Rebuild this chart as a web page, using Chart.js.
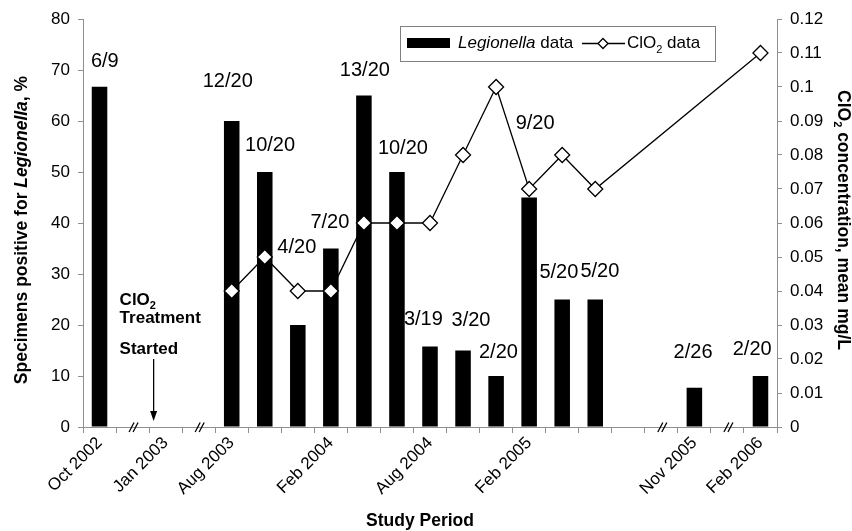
<!DOCTYPE html>
<html><head><meta charset="utf-8">
<script src="https://cdn.jsdelivr.net/npm/chart.js@4.4.1/dist/chart.umd.min.js"></script>
<style>html,body{margin:0;padding:0;background:#fff;}canvas{display:block;}</style>
</head><body>
<canvas id="c" width="852" height="531"></canvas>
<script>
// ---- data ----
const categories = ['Oct 2002','','Jan 2003','','Aug 2003','','','Feb 2004','','','Aug 2004','','','Feb 2005','','','','','Nov 2005','','Feb 2006'];
const legionellaPct = [66.7,null,null,null,60,50,20,35,65,50,15.8,15,10,45,25,25,null,null,7.7,null,10];
const clo2Conc = [null,null,null,null,0.04,0.05,0.04,0.04,0.06,0.06,0.06,0.08,0.10,0.07,0.08,0.07,null,null,null,null,0.11];
const fractionLabels = ['6/9','','','','12/20','10/20','4/20','7/20','13/20','10/20','3/19','3/20','2/20','9/20','5/20','5/20','','','2/26','','2/20'];
const breakCategories = [1,3,17,19];
const leftTicksMax = 80, leftStep = 10;
const rightTicksMax = 0.12, rightStep = 0.01;
// label anchors: [category offset, value on left axis]
const labelAnchors = [[0.16,71.7],null,null,null,[-0.12,67.7],[0.16,55.2],[-0.03,35.2],[-0.03,40.1],[0.03,70.0],[0.18,54.7],[-0.2,21.1],[0.24,20.9],[0.07,14.6],[0.18,59.6],[-0.1,30.2],[0.14,30.5],null,null,[-0.04,14.6],null,[-0.25,15.2]];

const FONT = '"Liberation Sans", Arial, Helvetica, sans-serif';
Chart.defaults.font.family = FONT;
Chart.defaults.color = '#000';
const AXIS = '#8f8f8f';

function richWidth(ctx, parts){let w=0;for(const p of parts){ctx.font=p.font;w+=ctx.measureText(p.t).width;}return w;}
function drawRich(ctx, parts, x, y){let cx=x;for(const p of parts){ctx.font=p.font;ctx.fillText(p.t,cx,y+(p.dy||0));cx+=ctx.measureText(p.t).width;}return cx;}

const decor = {
  id:'decor',
  afterDatasetsDraw(chart){
    const ctx = chart.ctx, xs = chart.scales.x, ys = chart.scales.y;
    const area = chart.chartArea;
    const cw = xs.getPixelForValue(1) - xs.getPixelForValue(0);
    ctx.save();
    ctx.fillStyle = '#000';
    ctx.textBaseline = 'middle';
    // data labels
    ctx.textAlign = 'center';
    ctx.font = '20px ' + FONT;
    fractionLabels.forEach((t,i)=>{
      const a = labelAnchors[i]; if(!t||!a) return;
      ctx.fillText(t, xs.getPixelForValue(i) + a[0]*cw, ys.getPixelForValue(a[1]));
    });
    // axis breaks
    ctx.strokeStyle = '#000'; ctx.lineWidth = 1.3;
    const by = area.bottom;
    breakCategories.forEach(i=>{
      const cx = xs.getPixelForValue(i) + 1;
      [-2,2].forEach(d=>{
        ctx.beginPath();
        ctx.moveTo(cx + d - 2.5, by + 5);
        ctx.lineTo(cx + d + 2.5, by - 4.5);
        ctx.stroke();
      });
    });
    // treatment annotation
    ctx.textAlign = 'left';
    const ref = xs.getPixelForValue(2);
    const tx = ref - 46;
    const bold17 = 'bold 17px ' + FONT;
    drawRich(ctx, [{t:'ClO',font:bold17},{t:'2',font:'bold 11px '+FONT,dy:6}], tx, 300);
    ctx.font = bold17;
    ctx.fillText('Treatment', tx, 318.5);
    ctx.fillText('Started', tx, 349);
    const axp = ref - 12;
    ctx.lineWidth = 1.3;
    ctx.beginPath(); ctx.moveTo(axp, 359); ctx.lineTo(axp, 413); ctx.stroke();
    ctx.beginPath(); ctx.moveTo(axp-3.5, 411); ctx.lineTo(axp+3.5, 411); ctx.lineTo(axp, 421); ctx.closePath(); ctx.fill();
    // legend
    ctx.fillStyle = '#fff';
    ctx.fillRect(400, 26, 315, 35);
    ctx.strokeStyle = '#808080'; ctx.lineWidth = 1;
    ctx.strokeRect(400.5, 26.5, 315, 35);
    ctx.fillStyle = '#000';
    ctx.fillRect(407, 38, 43, 10);
    const f17 = '17px ' + FONT;
    drawRich(ctx, [{t:'Legionella',font:'italic 17px '+FONT},{t:' data',font:f17}], 458, 43.5);
    ctx.strokeStyle = '#000'; ctx.lineWidth = 1.3;
    ctx.beginPath(); ctx.moveTo(582, 43.5); ctx.lineTo(625, 43.5); ctx.stroke();
    ctx.beginPath(); ctx.moveTo(603, 38.5); ctx.lineTo(608, 43.5); ctx.lineTo(603, 48.5); ctx.lineTo(598, 43.5); ctx.closePath();
    ctx.fillStyle = '#fff'; ctx.fill(); ctx.stroke();
    ctx.fillStyle = '#000';
    drawRich(ctx, [{t:'ClO',font:f17},{t:'2',font:'11px '+FONT,dy:6},{t:' data',font:f17}], 627, 43.5);
    // axis titles
    const b18 = 'bold 17.5px ' + FONT;
    const leftParts = [{t:'Specimens positive for ',font:b18},{t:'Legionella',font:'italic bold 17.5px '+FONT},{t:', %',font:b18}];
    ctx.save();
    ctx.translate(22, 230); ctx.rotate(-Math.PI/2);
    drawRich(ctx, leftParts, -richWidth(ctx,leftParts)/2, 0);
    ctx.restore();
    const rightParts = [{t:'ClO',font:b18},{t:'2',font:'bold 11px '+FONT,dy:6},{t:' concentration, mean mg/L',font:b18}];
    ctx.save();
    ctx.translate(843, 220); ctx.rotate(Math.PI/2);
    drawRich(ctx, rightParts, -richWidth(ctx,rightParts)/2, 0);
    ctx.restore();
    ctx.font = b18; ctx.textAlign = 'center';
    ctx.fillText('Study Period', (area.left+area.right)/2 - 10, 521);
    ctx.restore();
  }
};

new Chart(document.getElementById('c'), {
  type:'bar',
  data:{
    labels: categories,
    datasets:[
      {type:'line', label:'ClO2 data', data:clo2Conc, yAxisID:'y1', order:0,
       borderColor:'#000', borderWidth:1.3, spanGaps:true, tension:0,
       pointStyle:'rectRot', pointRadius:7.5, pointBackgroundColor:'#fff', pointBorderColor:'#000', pointBorderWidth:1.3},
      {type:'bar', label:'Legionella data', data:legionellaPct, yAxisID:'y', order:1,
       backgroundColor:'#000', borderWidth:0, categoryPercentage:1, barPercentage:0.47}
    ]
  },
  options:{
    responsive:false, animation:false,
    layout:{padding:{top:19,left:0,right:0,bottom:0}},
    plugins:{legend:{display:false}, tooltip:{enabled:false}},
    scales:{
      x:{
        offset:true,
        grid:{offset:true, drawOnChartArea:false, drawTicks:true, tickLength:6, color:AXIS},
        border:{color:AXIS},
        ticks:{autoSkip:false, maxRotation:45, minRotation:45, font:{size:17}, color:'#000', padding:0},
        afterFit(s){ s.height = 104; }
      },
      y:{
        position:'left', min:0, max:leftTicksMax,
        ticks:{stepSize:leftStep, font:{size:17}, color:'#000', padding:8},
        grid:{drawOnChartArea:false, drawTicks:true, tickLength:5, color:AXIS},
        border:{color:AXIS},
        afterFit(s){ s.width = 83; }
      },
      y1:{
        position:'right', min:0, max:rightTicksMax,
        ticks:{stepSize:rightStep, font:{size:17}, color:'#000', padding:8,
          callback:v=>String(+(+v).toFixed(2))},
        grid:{drawOnChartArea:false, drawTicks:true, tickLength:5, color:AXIS},
        border:{color:AXIS},
        afterFit(s){ s.width = 75; }
      }
    }
  },
  plugins:[decor]
});
</script>
</body></html>
